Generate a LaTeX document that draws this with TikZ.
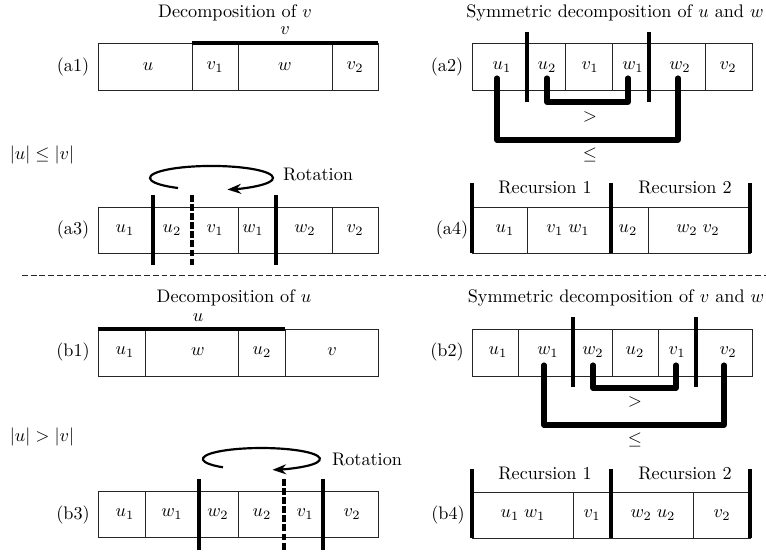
\documentclass[tikz,border=0pt]{standalone}
\usetikzlibrary{arrows.meta}
\begin{document}
\begin{tikzpicture}[x=0.55pt,y=-0.55pt,
  cellline/.style={draw=black!85,line width=0.5pt},
  topbar/.style={line width=2.2pt},
  sepline/.style={line width=1.8pt},
  sepdashed/.style={line width=1.8pt,dash pattern=on 3.8pt off 1.2pt},
  bracket/.style={line width=2.8pt,line cap=round,line join=round},
  rotarrow/.style={line width=1.2pt,-{Stealth[length=7.5pt,width=5.5pt]}},
  divider/.style={line width=0.55pt,dash pattern=on 3.2pt off 1.6pt,draw=black!85},
  txt/.style={inner sep=1pt}
]
\useasboundingbox (0,0) rectangle (766,553);

% ---------- (a1)
\node[txt] (t1) at (235,13) {Decomposition of $v$};
\node[txt] (la1) at (73,67) {(a1)};
\draw[cellline] (98,43) rectangle (378,90);
\draw[cellline] (192,43) -- (192,90) (238,43) -- (238,90) (332,43) -- (332,90);
\draw[topbar] (192,43) -- (378,43);
\node[txt] (a1top) at (285,31) {$v$};
\node[txt] (a1u) at (148,67) {$u$};
\node[txt] (a1v1) at (215,67) {$v_1$};
\node[txt] (a1w) at (285,67) {$w$};
\node[txt] (a1v2) at (355,67) {$v_2$};

% ---------- (a2)
\node[txt] (t2) at (615,13) {Symmetric decomposition of $u$ and $w$};
\node[txt] (la2) at (447,67) {(a2)};
\draw[cellline] (472,43) rectangle (752,90);
\draw[cellline] (565,43) -- (565,90) (612,43) -- (612,90) (705,43) -- (705,90);
\draw[sepline] (527,32) -- (527,102);
\draw[sepline] (649,32) -- (649,102);
\node[txt] (a2u1) at (502,67) {$u_1$};
\node[txt] (a2u2) at (547,67) {$u_2$};
\node[txt] (a2v1) at (590,67) {$v_1$};
\node[txt] (a2w1) at (633,67) {$w_1$};
\node[txt] (a2w2) at (680,67) {$w_2$};
\node[txt] (a2v2) at (728,67) {$v_2$};
\coordinate (a2i1) at (547,78);
\coordinate (a2i2) at (628,78);
\coordinate (a2o1) at (497,78);
\coordinate (a2o2) at (678,78);
\coordinate (a2in) at (588,102);
\coordinate (a2out) at (588,140);
\draw[bracket] (a2i1) |- (a2in) -| (a2i2);
\draw[bracket] (a2o1) |- (a2out) -| (a2o2);
\node[txt] (a2gt) at (590,117) {$>$};
\node[txt] (a2le) at (590,155) {$\leq$};

% ---------- condition a
\node[txt] (conda) at (42,155) {$|u|\leq|v|$};

% ---------- (a3)
\node[txt] (la3) at (73,230) {(a3)};
\draw[cellline] (98,207) rectangle (378,253);
\draw[cellline] (238,207) -- (238,253) (332,207) -- (332,253);
\draw[sepline] (153,195) -- (153,265);
\draw[sepdashed] (192,195) -- (192,265);
\draw[sepline] (276,195) -- (276,265);
\node[txt] (a3u1) at (125,230) {$u_1$};
\node[txt] (a3u2) at (172,230) {$u_2$};
\node[txt] (a3v1) at (215,230) {$v_1$};
\node[txt] (a3w1) at (253,230) {$w_1$};
\node[txt] (a3w2) at (305,230) {$w_2$};
\node[txt] (a3v2) at (355,230) {$v_2$};
\coordinate (a3rs) at (178,188);
\draw[rotarrow] (a3rs) arc[start angle=123,end angle=435,x radius=61.5,y radius=12];
\node[txt] (a3rot) at (318,174) {Rotation};

% ---------- (a4)
\node[txt] (la4) at (452,230) {(a4)};
\draw[cellline] (472,207) rectangle (750,253);
\draw[cellline] (527,207) -- (527,253) (648,207) -- (648,253);
\draw[sepline] (472,183) -- (472,253);
\draw[sepline] (611,183) -- (611,253);
\draw[sepline] (750,183) -- (750,253);
\node[txt] (a4r1) at (545,187) {Recursion 1};
\node[txt] (a4r2) at (685,187) {Recursion 2};
\node[txt] (a4u1) at (505,230) {$u_1$};
\node[txt] (a4vw) at (568,230) {$v_1\;w_1$};
\node[txt] (a4u2) at (628,230) {$u_2$};
\node[txt] (a4wv) at (698,230) {$w_2\;v_2$};

% ---------- separator
\coordinate (sepL) at (22,275.5);
\coordinate (sepR) at (766,275.5);
\draw[divider] (sepL) -- (sepR);

% ---------- (b1)
\node[txt] (t3) at (234,298) {Decomposition of $u$};
\node[txt] (lb1) at (73,352) {(b1)};
\draw[cellline] (98,329) rectangle (378,376);
\draw[cellline] (145,329) -- (145,376) (238,329) -- (238,376) (285,329) -- (285,376);
\draw[topbar] (98,329) -- (285,329);
\node[txt] (b1top) at (198,318) {$u$};
\node[txt] (b1u1) at (125,352) {$u_1$};
\node[txt] (b1w) at (198,352) {$w$};
\node[txt] (b1u2) at (262,352) {$u_2$};
\node[txt] (b1v) at (332,352) {$v$};

% ---------- (b2)
\node[txt] (t4) at (616,298) {Symmetric decomposition of $v$ and $w$};
\node[txt] (lb2) at (447,352) {(b2)};
\draw[cellline] (472,329) rectangle (752,376);
\draw[cellline] (518,329) -- (518,376) (612,329) -- (612,376) (658,329) -- (658,376);
\draw[sepline] (573,317) -- (573,387);
\draw[sepline] (696,317) -- (696,387);
\node[txt] (b2u1) at (498,352) {$u_1$};
\node[txt] (b2w1) at (548,352) {$w_1$};
\node[txt] (b2w2) at (593,352) {$w_2$};
\node[txt] (b2u2) at (635,352) {$u_2$};
\node[txt] (b2v1) at (677,352) {$v_1$};
\node[txt] (b2v2) at (728,352) {$v_2$};
\coordinate (b2i1) at (593,365);
\coordinate (b2i2) at (676,365);
\coordinate (b2o1) at (544,365);
\coordinate (b2o2) at (724,365);
\coordinate (b2in) at (634,388);
\coordinate (b2out) at (634,425);
\draw[bracket] (b2i1) |- (b2in) -| (b2i2);
\draw[bracket] (b2o1) |- (b2out) -| (b2o2);
\node[txt] (b2gt) at (635,402) {$>$};
\node[txt] (b2le) at (635,440) {$\leq$};

% ---------- condition b
\node[txt] (condb) at (42,437) {$|u|>|v|$};

% ---------- (b3)
\node[txt] (lb3) at (73,515) {(b3)};
\draw[cellline] (98,491) rectangle (378,537);
\draw[cellline] (145,491) -- (145,537) (238,491) -- (238,537);
\draw[sepline] (199,479) -- (199,550);
\draw[sepdashed] (284,479) -- (284,550);
\draw[sepline] (323,479) -- (323,550);
\node[txt] (b3u1) at (125,514) {$u_1$};
\node[txt] (b3w1) at (172,514) {$w_1$};
\node[txt] (b3w2) at (218,514) {$w_2$};
\node[txt] (b3u2) at (262,514) {$u_2$};
\node[txt] (b3v1) at (305,514) {$v_1$};
\node[txt] (b3v2) at (352,514) {$v_2$};
\coordinate (b3rs) at (223,467.3);
\draw[rotarrow] (b3rs) arc[start angle=131,end angle=439,x radius=58.5,y radius=11];
\node[txt] (b3rot) at (367,459) {Rotation};

% ---------- (b4)
\node[txt] (lb4) at (448,515) {(b4)};
\draw[cellline] (472,492) rectangle (750,538);
\draw[cellline] (573,492) -- (573,538) (693,492) -- (693,538);
\draw[sepline] (472,469) -- (472,538);
\draw[sepline] (611,469) -- (611,538);
\draw[sepline] (750,469) -- (750,538);
\node[txt] (b4r1) at (545,473) {Recursion 1};
\node[txt] (b4r2) at (685,473) {Recursion 2};
\node[txt] (b4uw) at (523,515) {$u_1\;w_1$};
\node[txt] (b4v1) at (592,515) {$v_1$};
\node[txt] (b4wu) at (653,515) {$w_2\;u_2$};
\node[txt] (b4v2) at (722,515) {$v_2$};
\end{tikzpicture}
\end{document}
